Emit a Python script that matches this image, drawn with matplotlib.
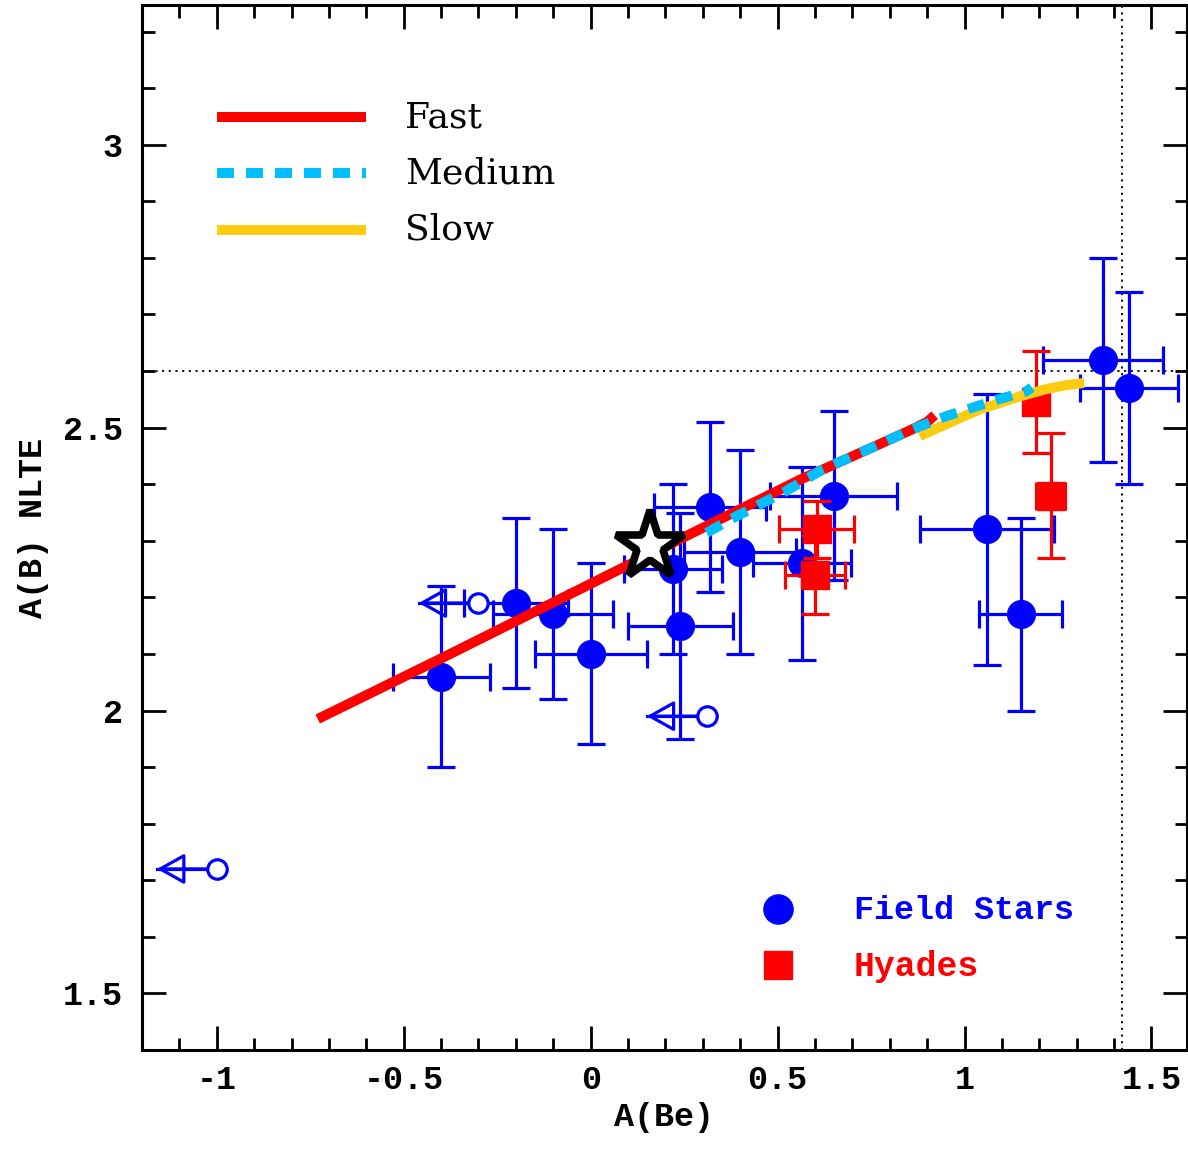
import matplotlib
matplotlib.use("Agg")
import matplotlib.pyplot as plt
from matplotlib.ticker import MultipleLocator, FixedLocator, FixedFormatter

plt.rcParams['axes.unicode_minus'] = False

# ---------------- data ----------------
field_x = [-0.40, -0.20, -0.10, 0.00, 0.22, 0.24, 0.32, 0.40, 0.565, 0.65, 1.06, 1.15, 1.37, 1.44]
field_y = [2.06, 2.19, 2.17, 2.10, 2.25, 2.15, 2.36, 2.28, 2.26, 2.38, 2.32, 2.17, 2.62, 2.57]
field_xerr = [0.13, 0.14, 0.16, 0.15, 0.13, 0.14, 0.15, 0.15, 0.13, 0.17, 0.18, 0.11, 0.16, 0.13]
field_yerr = [0.16, 0.15, 0.15, 0.16, 0.15, 0.20, 0.15, 0.18, 0.17, 0.15, 0.24, 0.17, 0.18, 0.17]

hyades_x = [0.605, 0.60, 1.19, 1.23]
hyades_y = [2.32, 2.24, 2.545, 2.38]
hyades_xerr = [0.10, 0.08, 0.03, 0.04]
hyades_yerr = [0.05, 0.07, 0.09, 0.11]

ul_x = [-0.30, 0.31, -1.00]
ul_y = [2.19, 1.99, 1.72]
ul_len = 0.16

sun_x = [0.16]
sun_y = [2.29]

fast_x = [-0.73, -0.40, 0.00, 0.30, 0.56, 0.77, 0.86, 0.90, 0.92]
fast_y = [1.985, 2.092, 2.224, 2.323, 2.408, 2.470, 2.497, 2.510, 2.522]

medium_x = [0.31, 0.38, 0.52, 0.62, 0.77, 0.86, 0.95, 1.02, 1.085, 1.165, 1.18]
medium_y = [2.314, 2.340, 2.387, 2.426, 2.470, 2.497, 2.520, 2.535, 2.549, 2.564, 2.571]

slow_x = [0.88, 0.95, 1.04, 1.147, 1.218, 1.27, 1.32]
slow_y = [2.485, 2.506, 2.532, 2.555, 2.568, 2.575, 2.579]

ref_y = 2.60
ref_x = 1.42

xticks = [-1, -0.5, 0, 0.5, 1, 1.5]
xticklabels = ['-1', '-0.5', '0', '0.5', '1', '1.5']
yticks = [1.5, 2, 2.5, 3]
yticklabels = ['1.5', '2', '2.5', '3']

# ---------------- figure ----------------
W, H = 1188, 1158
fig = plt.figure(figsize=(W / 100, H / 100), dpi=100)
ax = fig.add_axes([142 / W, 1 - 1050 / H, (1187 - 142) / W, (1050 - 5) / H])
ax.set_xlim(-1.2, 1.595)
ax.set_ylim(1.40, 3.247)

blue = '#0000ff'
red = '#ff0000'
cyan = '#00bfff'
gold = '#ffcc11'

# reference dotted lines
ax.axhline(ref_y, color='black', ls=(0, (1.2, 2.5)), lw=1.3, zorder=1)
ax.axvline(ref_x, color='black', ls=(0, (1.2, 2.5)), lw=1.3, zorder=1)

# field stars
ax.errorbar(field_x, field_y, xerr=field_xerr, yerr=field_yerr, fmt='o', color=blue,
            ms=20, elinewidth=2.3, capsize=10, capthick=2.3, zorder=3)

# upper limits
for x, y in zip(ul_x, ul_y):
    ax.plot([x - ul_len, x], [y, y], color=blue, lw=2.3, zorder=3)
    ax.annotate('', xy=(x - ul_len, y), xytext=(x, y),
                arrowprops=dict(arrowstyle='-|>,head_length=1.7,head_width=0.95',
                                color=blue, fc='none', lw=2.3, shrinkA=0, shrinkB=0),
                zorder=3)
ax.plot(ul_x, ul_y, 'o', mfc='white', mec=blue, mew=2.3, ms=14, ls='none', zorder=4)

# hyades
ax.errorbar(hyades_x, hyades_y, xerr=hyades_xerr, yerr=hyades_yerr, fmt='s', color=red,
            ms=20, elinewidth=2.3, capsize=10, capthick=2.3, zorder=4)

# models
ax.plot(fast_x, fast_y, color=red, lw=7.2, solid_capstyle='butt', zorder=5)
ax.plot(slow_x, slow_y, color=gold, lw=7.2, solid_capstyle='butt', zorder=6)
ax.plot(medium_x, medium_y, color=cyan, lw=7.2, ls=(0, (1.7, 1.2)), dash_capstyle='butt', zorder=7)

# sun
ax.plot(sun_x, sun_y, marker='*', ms=52, mfc='white', mec='black', mew=5.5, ls='none', zorder=8)

# legend (manual, axes coordinates)
lx0, lx1 = (217 - 142) / 1045, (366 - 142) / 1045
tx = (405 - 142) / 1045
for yy, col, ls, lab in [(0.8928, red, '-', 'Fast'), (0.8392, cyan, (0, (1.7, 1.2)), 'Medium'),
                         (0.7847, gold, '-', 'Slow')]:
    ax.plot([lx0, lx1], [yy, yy], color=col, lw=7.2, ls=ls, transform=ax.transAxes,
            solid_capstyle='butt', dash_capstyle='butt', zorder=9)
    ax.text(tx, yy, lab, transform=ax.transAxes, fontsize=26, family='DejaVu Serif',
            va='center', ha='left', zorder=9)

mx = (778 - 142) / 1045
ax.plot([mx], [0.1349], 'o', color=blue, ms=21, transform=ax.transAxes, zorder=9)
ax.plot([mx], [0.0813], 's', color=red, ms=20, transform=ax.transAxes, zorder=9)
ax.text((854 - 142) / 1045, 0.1335, 'Field Stars', transform=ax.transAxes, color=blue,
        fontsize=24, family='Liberation Mono', weight='bold', va='center', ha='left')
ax.text((854 - 142) / 1045, 0.0800, 'Hyades', transform=ax.transAxes, color=red,
        fontsize=25, family='Liberation Mono', weight='bold', va='center', ha='left')

# axes styling
for s in ax.spines.values():
    s.set_linewidth(2.2)
ax.xaxis.set_major_locator(FixedLocator(xticks))
ax.xaxis.set_major_formatter(FixedFormatter(xticklabels))
ax.yaxis.set_major_locator(FixedLocator(yticks))
ax.yaxis.set_major_formatter(FixedFormatter(yticklabels))
ax.xaxis.set_minor_locator(MultipleLocator(0.1))
ax.yaxis.set_minor_locator(MultipleLocator(0.1))
ax.tick_params(which='both', direction='in', top=True, right=True, width=2.0)
ax.tick_params(which='major', length=17)
ax.tick_params(which='minor', length=9)
ax.tick_params(axis='x', which='major', pad=11)
ax.tick_params(axis='y', which='major', pad=14)
for lab in ax.get_xticklabels() + ax.get_yticklabels():
    lab.set_family('Liberation Mono')
    lab.set_weight('bold')
    lab.set_fontsize(24)

ax.set_xlabel('A(Be)', fontsize=24, family='Liberation Mono', weight='bold', labelpad=4)
ax.set_ylabel('A(B) NLTE', fontsize=24, family='Liberation Mono', weight='bold', labelpad=10)

fig.savefig('out.png', dpi=100)
